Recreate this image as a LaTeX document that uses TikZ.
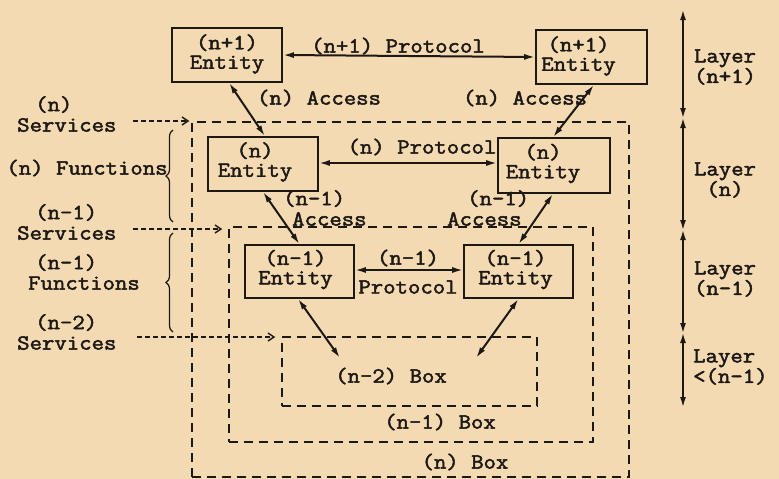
\documentclass[tikz,border=0pt]{standalone}
\usepackage{fontspec}
\newfontfamily\twfont{Latin Modern Mono}[FakeBold=2.2, FakeStretch=1.12]
\usetikzlibrary{arrows.meta,decorations.pathreplacing,calc}
\definecolor{paper}{RGB}{244,218,178}
\definecolor{ink}{RGB}{28,24,20}
\begin{document}
\begin{tikzpicture}[x=1pt,y=-1pt,
  every node/.style={font=\twfont\fontsize{21.5}{20.5}\selectfont, text=ink, inner sep=0pt},
  entitybox/.style={draw=ink, line width=1.6pt},
  entitytext/.style={align=center, font=\twfont\fontsize{21.5}{19.5}\selectfont},
  dbox/.style={draw=ink, line width=1.5pt, dash pattern=on 9pt off 6pt},
  solidarrow/.style={draw=ink, line width=2pt, {Latex[length=11pt,width=6pt]}-{Latex[length=11pt,width=6pt]}},
  servarrow/.style={draw=ink, line width=1.4pt, dash pattern=on 5pt off 3pt, -{Straight Barb[length=6pt,width=8pt]}},
  bracestyle/.style={draw=ink, line width=1.2pt, decorate, decoration={brace, amplitude=7pt}},
  layerarrow/.style={draw=ink, line width=1.5pt, {Latex[length=10pt,width=6pt]}-{Latex[length=10pt,width=6pt]}}]

\fill[paper] (0,0) rectangle (779,479);
\useasboundingbox (0,0) rectangle (779,479);

% dashed boxes
\node[dbox, minimum width=437, minimum height=355] (nbox) at (410.5,299.5) {};
\node[dbox, minimum width=364, minimum height=215] (nmbox) at (411,334.5) {};
\node[dbox, minimum width=255, minimum height=69] (nmmbox) at (409.5,371.5) {};
\node (nboxlbl) at (465,462) {(n) Box};
\node (nmboxlbl) at (440,422) {(n-1) Box};
\node (nmmboxlbl) at (391,376) {(n-2) Box};

% entity boxes
\node[entitybox, minimum width=110, minimum height=54] (a1) at (227,55) {};
\node[entitybox, minimum width=111, minimum height=54] (b1) at (591.5,57) {};
\node[entitybox, minimum width=110, minimum height=54] (a2) at (263,164) {};
\node[entitybox, minimum width=112, minimum height=55] (b2) at (554,165.5) {};
\node[entitybox, minimum width=109, minimum height=53] (a3) at (299.5,271.5) {};
\node[entitybox, minimum width=109, minimum height=53] (b3) at (518.5,271.5) {};

\node[entitytext] (ta1) at ([yshift=1]a1.center) {(n+1)\\Entity};
\node[entitytext] (tb1) at ([xshift=-13,yshift=1]b1.center) {(n+1)\\Entity};
\node[entitytext] (ta2) at ([xshift=-8,yshift=2]a2.center) {(n)\\Entity};
\node[entitytext] (tb2) at ([xshift=-11,yshift=2]b2.center) {(n)\\Entity};
\node[entitytext] (ta3) at ([xshift=-4,yshift=2]a3.center) {(n-1)\\Entity};
\node[entitytext] (tb3) at ([xshift=-3,yshift=2]b3.center) {(n-1)\\Entity};

% protocols
\draw[solidarrow] (a1.east) -- (b1.west);
\node (p1) at (398,46) {(n+1) Protocol};
\draw[solidarrow] ([yshift=1]a2.east) -- ([yshift=1]a2.east -| b2.west);
\node (p2) at (422,147) {(n) Protocol};
\draw[solidarrow] ([yshift=1.5]a3.east) -- ([yshift=1.5]a3.east -| b3.west);
\node (p3a) at (408,258) {(n-1)};
\node (p3b) at (408,287) {Protocol};

% access arrows
\draw[solidarrow] ([xshift=2]a1.south) -- ([xshift=2]a2.north);
\draw[solidarrow] ([xshift=2.5]b1.south) -- ([xshift=-1]b2.north);
\draw[solidarrow] (a2.south) -- (a3.north);
\draw[solidarrow] ([xshift=-1]b2.south) -- (b3.north);
\coordinate (endL) at (340,358);
\coordinate (endR) at (476,358);
\draw[solidarrow] ([xshift=-1.5]a3.south) -- (endL);
\draw[solidarrow] (b3.south) -- (endR);

\node (acc1) at (319,98) {(n) Access};
\node (acc2) at (525,98) {(n) Access};
\node[anchor=west, align=left] (acc3) at (283,208) {(n-1)\\\hspace*{9pt}Access};
\node[anchor=west, align=left] (acc4) at (447,208) {\hspace*{20pt}(n-1)\\Access};

% services and functions
\node[anchor=west, align=left] (sv1) at (17,114) {\hspace*{18pt}(n)\\Services};
\node[anchor=west, align=left] (sv2) at (17,222) {\hspace*{18pt}(n-1)\\Services};
\node[anchor=west, align=left] (sv3) at (17,332) {\hspace*{18pt}(n-2)\\Services};
\coordinate (s1) at (133,121);
\coordinate (s2) at (133,229);
\coordinate (s3) at (137,337);
\draw[servarrow, shorten >=2pt] (s1) -- (s1 -| nbox.west);
\draw[servarrow, shorten >=6pt] (s2) -- (s2 -| nmbox.west);
\draw[servarrow, shorten >=6pt] (s3) -- (s3 -| nmmbox.west);

\node (fn1) at (87,168) {(n) Functions};
\node[anchor=west, align=left] (fn2) at (28,272) {\hspace*{7pt}(n-1)\\Functions};
\draw[bracestyle] (173,222) -- (173,130);
\draw[bracestyle] (173,332) -- (173,233);

% layer scale
\coordinate (L0) at (683,10);
\coordinate (L1) at (683,118);
\coordinate (L2) at (683,230);
\coordinate (L3) at (683,333);
\coordinate (L4) at (683,407);
\draw[layerarrow] (L0) -- (L1);
\draw[layerarrow] (L1) -- (L2);
\draw[layerarrow] (L2) -- (L3);
\draw[layerarrow] (L3) -- (L4);
\node[align=center] (ly1) at (725,67) {Layer\\(n+1)};
\node[align=center] (ly2) at (725,180) {Layer\\(n)};
\node[align=center] (ly3) at (725,279) {Layer\\(n-1)};
\node[anchor=west, align=left] (ly4) at (693,367) {Layer\\<(n-1)};
\end{tikzpicture}
\end{document}
